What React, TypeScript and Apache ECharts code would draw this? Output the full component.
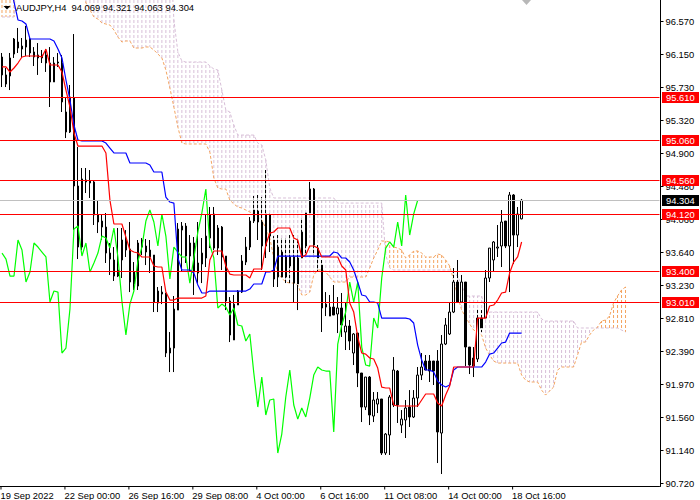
import React, { useEffect, useRef } from "react";
import * as echarts from "echarts";

const FONT = '"Liberation Sans", Arial, sans-serif';
const FONT_SIZE = 9.4;
const SLOTS = 165;
const BARS_PER_TICK = 16;
const xTickLabels = ["19 Sep 2022", "22 Sep 00:00", "26 Sep 16:00", "29 Sep 08:00", "4 Oct 00:00", "6 Oct 16:00", "11 Oct 08:00", "14 Oct 00:00", "18 Oct 16:00"];
const yTickLabels = [96.57, 96.15, 95.73, 95.32, 94.9, 94.48, 94.06, 93.64, 93.23, 92.81, 92.39, 91.97, 91.56, 91.14, 90.72];
const redLevels = [95.61, 95.06, 94.56, 94.12, 93.4, 93.01];
const lastPrice = 94.304;
const legendText = "AUDJPY,H4  94.069 94.321 94.063 94.304";

const opens = [96.118,95.776,95.878,96.156,96.308,96.219,96.244,96.346,96.182,96.144,96.106,96.144,96.042,95.802,96.042,96.042,95.422,95.169,95.599,94.485,93.712,94.561,94.548,94.536,94.118,94.041,93.965,93.636,93.548,93.421,93.548,93.801,93.687,93.244,93.218,93.801,93.725,93.674,93.611,93.003,93.117,93.13,92.37,92.433,92.914,93.927,93.978,93.598,93.763,93.383,93.497,93.573,94.118,94.13,93.699,93.965,93.598,93.029,92.535,92.978,93.142,93.522,93.712,94.041,94.168,94.029,93.725,94.118,93.801,93.332,93.332,93.332,93.472,93.586,93.244,93.573,93.725,94.143,94.447,93.699,93.484,92.952,92.838,92.952,92.864,92.94,92.636,92.712,92.37,92.623,92.117,91.686,92.066,91.572,91.724,91.788,91.104,91.332,91.712,92.142,91.458,91.522,91.686,91.56,91.8,92.091,92.269,92.269,92.269,92.269,91.357,92.484,92.611,92.889,93.269,93.016,93.269,92.446,92.307,92.294,92.813,92.813,93.32,93.548,93.699,93.725,94.041,93.725,94.371,93.864,94.069];
const highs = [96.169,95.979,96.169,96.359,96.486,96.359,96.511,96.359,96.244,96.295,96.207,96.219,96.244,96.118,96.169,96.144,95.599,95.764,96.409,94.979,94.713,94.713,94.687,94.548,94.307,94.118,94.143,93.763,93.712,93.953,93.953,93.927,94.029,93.522,93.801,93.826,93.814,93.801,93.611,93.206,93.218,93.13,92.636,93.092,94.016,94.029,94.016,93.864,93.839,94.029,93.826,94.118,94.219,94.219,93.991,93.978,93.598,93.079,93.105,93.168,93.611,93.839,94.092,94.358,94.371,94.345,94.687,94.143,93.851,93.864,93.826,93.826,93.864,93.864,93.826,94.079,94.143,94.536,94.459,93.738,93.548,93.142,93.105,93.231,93.079,93.13,93.016,92.788,92.623,92.623,92.117,92.066,92.079,91.876,91.876,91.788,91.357,91.838,92.319,92.155,91.648,91.775,91.901,91.901,92.193,92.37,92.345,92.345,92.269,92.408,92.598,92.813,93.016,93.446,93.548,93.358,93.269,92.446,92.446,92.927,92.914,93.421,93.699,93.788,93.991,94.181,94.041,94.409,94.383,94.219,94.321];
const lows = [95.738,95.738,95.7,96.106,96.169,96.106,96.131,96.118,96.004,95.891,96.042,95.929,95.485,95.802,95.992,95.422,95.092,95.156,93.927,93.56,93.674,94.396,94.333,93.991,93.889,93.801,93.51,93.358,93.282,93.332,93.32,93.586,93.142,93.168,93.168,93.611,93.484,93.383,92.889,92.889,92.99,92.319,92.129,92.129,92.914,93.396,93.51,93.396,93.105,93.256,93.256,93.459,93.699,93.674,93.611,93.421,92.914,92.509,92.535,92.978,93.13,93.484,93.674,94.016,93.801,93.421,93.573,93.649,93.206,93.206,93.332,93.256,93.256,93.016,92.914,93.56,93.611,94.118,93.611,93.396,92.636,92.838,92.838,92.851,92.623,92.573,92.408,92.408,92.218,91.939,91.496,91.648,91.458,91.496,91.61,91.079,91.079,91.079,91.686,91.484,91.357,91.294,91.433,91.547,91.686,92.028,92.155,92.003,91.965,90.977,90.838,92.471,92.598,92.876,93.003,93.003,92.205,92.104,92.066,92.256,92.636,92.788,93.269,93.396,93.586,93.459,93.699,93.142,93.497,93.712,94.063];
const closes = [95.891,95.891,96.106,96.346,96.232,96.257,96.333,96.169,96.118,96.106,96.144,96.042,95.802,96.042,96.055,95.549,95.169,95.612,94.485,93.712,94.574,94.536,94.523,94.118,94.029,93.965,93.636,93.56,93.345,93.345,93.801,93.674,93.269,93.396,93.763,93.712,93.649,93.586,93.016,93.155,93.142,92.37,92.433,92.927,93.94,93.978,93.598,93.763,93.396,93.51,93.636,93.851,93.826,93.699,93.953,93.586,93.029,92.598,92.99,93.155,93.535,93.712,94.041,94.181,94.029,93.725,94.13,93.851,93.307,93.712,93.649,93.586,93.586,93.256,93.573,93.902,94.143,94.447,93.738,93.573,92.94,92.99,92.952,92.851,92.94,92.725,92.712,92.522,92.611,92.117,91.686,92.066,91.585,91.775,91.788,91.104,91.344,91.813,92.155,91.712,91.534,91.674,91.56,91.8,92.091,92.193,92.155,92.142,92.142,91.37,92.484,92.725,92.889,93.269,93.016,93.269,92.446,92.218,92.205,92.813,92.687,93.32,93.699,93.776,93.712,94.029,93.725,94.371,93.864,94.13,94.304];

const tenkan = [95.992,95.992,95.928,95.979,96.042,96.118,96.131,96.131,96.131,96.131,96.118,96.219,96.017,96.017,96.017,95.928,95.7,95.485,95.156,94.991,94.991,94.991,94.991,94.991,94.991,94.991,94.903,94.307,94.004,94.004,94.004,93.839,93.674,93.649,93.636,93.586,93.586,93.586,93.472,93.459,93.459,93.142,93.041,93.041,93.066,93.066,93.066,93.066,93.066,93.066,93.066,93.092,93.548,93.662,93.662,93.662,93.472,93.37,93.358,93.358,93.358,93.358,93.32,93.434,93.434,93.434,93.738,93.889,93.902,93.953,93.953,93.953,93.953,93.826,93.801,93.586,93.611,93.725,93.725,93.699,93.586,93.586,93.586,93.586,93.586,93.472,93.421,93.003,92.889,92.573,92.37,92.357,92.307,92.294,92.18,91.939,91.927,91.927,91.712,91.699,91.699,91.699,91.699,91.699,91.699,91.775,91.851,91.851,91.851,91.737,91.699,91.838,91.952,92.193,92.193,92.193,92.193,92.193,92.193,92.813,92.813,92.813,92.965,92.978,93.041,93.13,93.142,93.383,93.522,93.586,93.776];
const kijun = [97.2,97.2,97.1,96.815,96.587,96.574,96.536,96.346,96.346,96.346,96.346,96.346,96.346,96.321,96.219,96.106,95.827,95.574,95.257,95.067,95.055,95.055,95.055,95.055,95.055,95.055,95.029,94.966,94.903,94.903,94.903,94.903,94.776,94.776,94.776,94.776,94.776,94.751,94.662,94.662,94.662,94.345,94.282,94.269,93.573,93.421,93.421,93.421,93.383,93.231,93.13,93.13,93.155,93.155,93.155,93.155,93.155,93.155,93.155,93.155,93.155,93.155,93.18,93.244,93.244,93.244,93.396,93.396,93.421,93.598,93.598,93.598,93.598,93.598,93.598,93.598,93.598,93.598,93.598,93.598,93.598,93.598,93.598,93.649,93.636,93.573,93.573,93.522,93.421,93.269,93.105,93.092,93.016,93.016,93.003,92.813,92.813,92.813,92.813,92.813,92.813,92.813,92.801,92.75,92.471,92.281,92.155,92.155,92.129,92.015,91.965,91.939,91.965,92.155,92.193,92.193,92.193,92.193,92.193,92.193,92.193,92.256,92.357,92.37,92.433,92.497,92.509,92.623,92.623,92.623,92.623];
const chikou = [93.636,93.56,93.345,93.345,93.801,93.674,93.269,93.396,93.763,93.712,93.649,93.586,93.016,93.155,93.142,92.37,92.433,92.927,93.94,93.978,93.598,93.763,93.396,93.51,93.636,93.851,93.826,93.699,93.953,93.586,93.029,92.598,92.99,93.155,93.535,93.712,94.041,94.181,94.029,93.725,94.13,93.851,93.307,93.712,93.649,93.586,93.586,93.256,93.573,93.902,94.143,94.447,93.738,93.573,92.94,92.99,92.952,92.851,92.94,92.725,92.712,92.522,92.611,92.117,91.686,92.066,91.585,91.775,91.788,91.104,91.344,91.813,92.155,91.712,91.534,91.674,91.56,91.8,92.091,92.193,92.155,92.142,92.142,91.37,92.484,92.725,92.889,93.269,93.016,93.269,92.446,92.218,92.205,92.813,92.687,93.32,93.699,93.776,93.712,94.029,93.725,94.371,93.864,94.13,94.304];
const spanA = [97.2,97.2,97.2,97.2,97.2,97.2,97.2,97.2,97.2,97.2,97.2,97.2,97.2,97.2,97.2,97.2,97.2,97.2,97.2,97.2,97.2,96.802,96.713,96.625,96.599,96.549,96.536,96.523,96.46,96.371,96.308,96.321,96.321,96.232,96.232,96.232,96.245,96.245,96.207,96.156,96.106,95.954,95.726,95.485,95.232,95.029,95.017,95.017,95.017,95.017,95.017,95.017,94.915,94.586,94.459,94.447,94.447,94.307,94.257,94.219,94.206,94.181,94.155,94.13,94.092,94.054,93.953,93.826,93.573,93.383,93.32,93.269,93.256,93.256,93.231,93.105,93.105,93.142,93.358,93.421,93.421,93.396,93.332,93.269,93.269,93.269,93.269,93.332,93.332,93.332,93.332,93.332,93.446,93.573,93.674,93.788,93.788,93.776,93.712,93.699,93.674,93.573,93.611,93.662,93.662,93.636,93.586,93.586,93.586,93.624,93.611,93.548,93.472,93.294,93.092,92.914,92.826,92.737,92.661,92.636,92.598,92.433,92.345,92.269,92.243,92.243,92.243,92.243,92.243,92.243,92.091,92.028,92.003,92.003,92.003,91.901,91.838,91.889,91.939,92.155,92.193,92.193,92.193,92.193,92.345,92.509,92.509,92.598,92.661,92.699,92.775,92.788,92.838,93.003,93.092,93.168,93.206];
const spanB = [96.625,96.625,96.625,96.625,97.6,97.6,97.6,97.6,97.6,97.6,97.6,97.6,97.6,97.6,97.6,97.6,97.6,97.6,97.6,97.6,97.6,97.6,97.6,97.6,97.6,97.6,97.6,97.6,97.6,97.6,97.6,97.6,97.6,97.6,97.6,97.6,97.6,97.6,97.6,97.6,97.6,97.6,97.6,96.587,96.182,96.068,96.055,96.055,96.055,96.055,96.055,96.055,96.004,95.966,95.954,95.7,95.447,95.422,95.257,95.13,95.13,95.13,95.13,95.13,95.029,95.004,94.814,94.459,94.333,94.333,94.333,94.333,94.333,94.333,94.333,94.333,94.333,94.333,94.333,94.333,94.333,94.333,94.333,94.333,94.269,94.269,94.269,94.269,94.269,94.269,94.269,94.269,94.269,94.269,94.269,94.269,93.611,93.446,93.421,93.421,93.421,93.421,93.421,93.421,93.421,93.421,93.421,93.421,93.421,93.421,93.421,93.421,93.421,93.383,93.345,93.231,93.092,93.092,93.092,93.092,93.092,92.889,92.889,92.889,92.889,92.889,92.889,92.889,92.889,92.889,92.889,92.889,92.889,92.889,92.889,92.801,92.775,92.775,92.775,92.775,92.775,92.775,92.775,92.775,92.687,92.687,92.687,92.687,92.687,92.687,92.687,92.687,92.687,92.687,92.687,92.661,92.636];

const categories = Array.from({ length: SLOTS }, (_, i) => String(i));
const mod5 = (v: number) => ((v % 5) + 5) % 5;
const snap = (v: number) => Math.round(v - 0.5) + 0.5;

function cloudItem(_p: any, api: any) {
  const i = api.value(0);
  const a = api.value(1);
  const b = api.value(2);
  const p1 = api.coord([i, Math.max(a, b)]);
  const p2 = api.coord([i, Math.min(a, b)]);
  const y1 = Math.round(p1[1]);
  return {
    type: "line",
    shape: { x1: p1[0], y1, x2: p2[0], y2: p2[1] },
    style: { stroke: a > b ? "#f4a460" : "#d8bfd8", lineWidth: 1, lineDash: [3, 2], lineDashOffset: mod5(y1) },
  };
}

function wickGapItem(_p: any, api: any) {
  const i = api.value(0);
  const top = Math.max(spanA[i], spanB[i]);
  const bottom = Math.min(spanA[i], spanB[i]);
  const bodyTop = Math.max(opens[i], closes[i]);
  const bodyBottom = Math.min(opens[i], closes[i]);
  const parts: any[] = [];
  const add = (hi: number, lo: number) => {
    const h = Math.min(hi, top);
    const l = Math.max(lo, bottom);
    if (h <= l) return;
    const p1 = api.coord([i, h]);
    const p2 = api.coord([i, l]);
    const y1 = Math.round(p1[1]);
    parts.push({
      type: "line",
      shape: { x1: p1[0], y1, x2: p2[0], y2: p2[1] },
      style: { stroke: "#ffffff", lineWidth: 1, lineDash: [2, 3], lineDashOffset: mod5(y1 - 3) },
    });
  };
  add(highs[i], bodyTop);
  add(bodyBottom, lows[i]);
  return parts.length ? { type: "group", children: parts } : null;
}

function levelItem(params: any, api: any) {
  const v = api.value(1);
  const isLast = v === lastPrice;
  const cs = params.coordSys;
  const y = snap(api.coord([0, v])[1]);
  const color = isLast ? "#c0c0c0" : "#ff0000";
  return {
    type: "group",
    children: [
      { type: "line", shape: { x1: 0, y1: y, x2: cs.x + cs.width, y2: y }, style: { stroke: color, lineWidth: 1 } },
      { type: "rect", shape: { x: 662, y: y - 5.5, width: 37, height: 11 }, style: { fill: isLast ? "#000000" : "#ff0000" } },
      { type: "text", style: { text: v.toFixed(3), x: 666, y: y, fill: "#ffffff", font: `${FONT_SIZE}px ${FONT}`, align: "left", verticalAlign: "middle" } },
    ],
  };
}

function xTickItem(params: any, api: any) {
  const k = api.value(1);
  const cs = params.coordSys;
  const bottom = cs.y + cs.height;
  const x = api.coord([k * BARS_PER_TICK, 94])[0] - 1;
  return {
    type: "group",
    children: [
      { type: "line", shape: { x1: x, y1: bottom, x2: x, y2: bottom + 3 }, style: { stroke: "#000000", lineWidth: 1 } },
      { type: "text", style: { text: xTickLabels[k], x: x - 0.5, y: 495, fill: "#000000", font: `${FONT_SIZE}px ${FONT}`, align: "left", verticalAlign: "middle" } },
    ],
  };
}

function lineSeries(name: string, data: number[], color: string, z: number, dashed: boolean) {
  return {
    name,
    type: "line",
    data,
    z,
    symbol: "none",
    showSymbol: false,
    clip: true,
    silent: true,
    lineStyle: { color, width: dashed ? 1 : 1.2, type: dashed ? [3, 2] : "solid" },
  };
}

export default function App() {
  const ref = useRef<HTMLDivElement>(null);
  useEffect(() => {
    const chart = echarts.init(ref.current as HTMLDivElement, undefined, { renderer: "svg" });
    chart.setOption({
      animation: false,
      backgroundColor: "#ffffff",
      grid: { left: -0.5, top: 0, width: 660, height: 486.5, containLabel: false },
      xAxis: {
        type: "category",
        data: categories,
        boundaryGap: true,
        axisLine: { show: true, lineStyle: { color: "#000", width: 1 } },
        axisTick: { show: false },
        axisLabel: { show: false },
        splitLine: { show: false },
      },
      yAxis: {
        type: "value",
        position: "right",
        offset: 1,
        min: 90.68,
        max: 96.84,
        scale: true,
        axisLine: { show: true, onZero: false, lineStyle: { color: "#000", width: 1 } },
        axisTick: { show: true, length: 3, customValues: yTickLabels, lineStyle: { color: "#000" } },
        axisLabel: { customValues: yTickLabels, color: "#000", fontFamily: FONT, fontSize: FONT_SIZE, margin: 5, formatter: (v: number) => v.toFixed(3) },
        splitLine: { show: false },
      },
      series: [
        {
          type: "custom",
          name: "cloud",
          z: 1,
          clip: true,
          silent: true,
          renderItem: cloudItem,
          encode: { x: 0, y: [1, 2] },
          data: spanA.map((a, i) => [i, a, spanB[i]]),
        },
        lineSeries("Senkou A", spanA, "#f4a460", 1, true),
        lineSeries("Senkou B", spanB, "#d8bfd8", 1, true),
        {
          type: "candlestick",
          name: "AUDJPY",
          z: 2,
          barWidth: 2,
          clip: true,
          silent: true,
          data: opens.map((o, i) => [o, closes[i], lows[i], highs[i]]),
          itemStyle: { color: "#ffffff", color0: "#000000", borderColor: "#000000", borderColor0: "#000000", borderWidth: 1 },
        },
        {
          type: "custom",
          name: "wick gaps",
          z: 3,
          clip: true,
          silent: true,
          renderItem: wickGapItem,
          encode: { x: 0, y: 1 },
          data: opens.map((o, i) => [i, o]),
        },
        lineSeries("Chikou", chikou, "#00ff00", 4, false),
        lineSeries("Kijun", kijun, "#0000ff", 4, false),
        lineSeries("Tenkan", tenkan, "#ff0000", 4, false),
        {
          type: "custom",
          name: "levels",
          z: 5,
          clip: false,
          silent: true,
          renderItem: levelItem,
          encode: { x: 0, y: 1 },
          data: [lastPrice, ...redLevels].map((v) => [0, v]),
        },
        {
          type: "custom",
          name: "x ticks",
          z: 5,
          clip: false,
          silent: true,
          renderItem: xTickItem,
          encode: { x: 0, y: 2 },
          data: xTickLabels.map((_, k) => [k * BARS_PER_TICK, k, 94]),
        },
      ],
      graphic: [
        { type: "polygon", z: 10, shape: { points: [[3.5, 6], [10.5, 6], [7, 9.5]] }, style: { fill: "#000" } },
        { type: "polygon", z: 10, shape: { points: [[522, 0], [531, 0], [526.5, 5]] }, style: { fill: "#b8b8b8" } },
        { type: "text", z: 10, x: 16, y: 7.5, style: { text: legendText, fill: "#000", font: `${FONT_SIZE}px ${FONT}`, verticalAlign: "middle", align: "left" } },
      ],
    });
    return () => chart.dispose();
  }, []);
  return <div ref={ref} style={{ position: "fixed", left: 0, top: 0, width: 700, height: 500 }} />;
}
